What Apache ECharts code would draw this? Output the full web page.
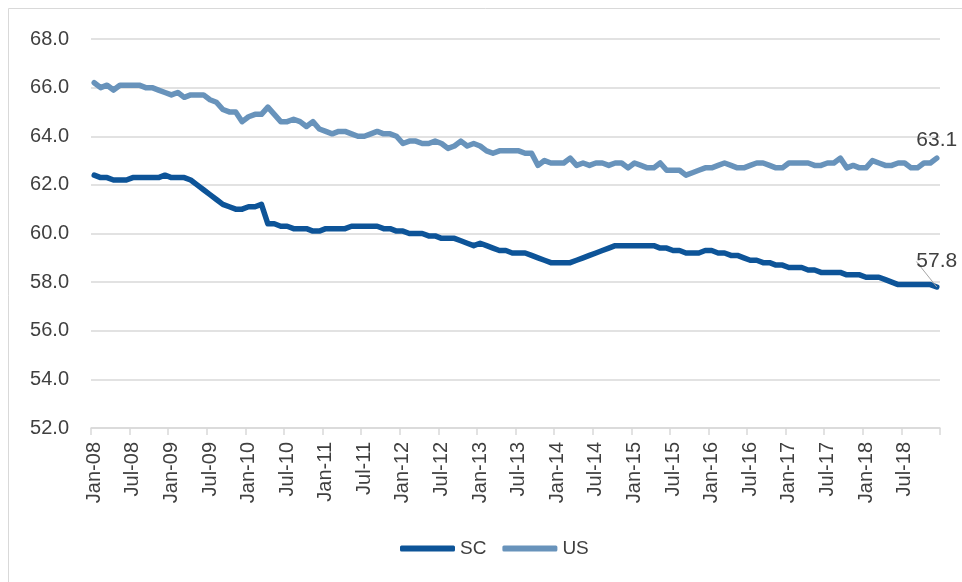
<!DOCTYPE html>
<html>
<head>
<meta charset="utf-8">
<script src="https://cdn.jsdelivr.net/npm/echarts@6/dist/echarts.min.js"></script>
<style>
  html, body { margin: 0; padding: 0; background: #fff; }
  #chart { width: 962px; height: 582px; }
</style>
</head>
<body>
<div id="chart"></div>
<script>
var years = ['08', '09', '10', '11', '12', '13', '14', '15', '16', '17', '18'];
var months = ['Jan', 'Feb', 'Mar', 'Apr', 'May', 'Jun', 'Jul', 'Aug', 'Sep', 'Oct', 'Nov', 'Dec'];

var sc = [
    62.4, 62.3, 62.3, 62.2, 62.2, 62.2, 62.3, 62.3, 62.3, 62.3, 62.3, 62.4,
    62.3, 62.3, 62.3, 62.2, 62.0, 61.8, 61.6, 61.4, 61.2, 61.1, 61.0, 61.0,
    61.1, 61.1, 61.2, 60.4, 60.4, 60.3, 60.3, 60.2, 60.2, 60.2, 60.1, 60.1,
    60.2, 60.2, 60.2, 60.2, 60.3, 60.3, 60.3, 60.3, 60.3, 60.2, 60.2, 60.1,
    60.1, 60.0, 60.0, 60.0, 59.9, 59.9, 59.8, 59.8, 59.8, 59.7, 59.6, 59.5,
    59.6, 59.5, 59.4, 59.3, 59.3, 59.2, 59.2, 59.2, 59.1, 59.0, 58.9, 58.8,
    58.8, 58.8, 58.8, 58.9, 59.0, 59.1, 59.2, 59.3, 59.4, 59.5, 59.5, 59.5,
    59.5, 59.5, 59.5, 59.5, 59.4, 59.4, 59.3, 59.3, 59.2, 59.2, 59.2, 59.3,
    59.3, 59.2, 59.2, 59.1, 59.1, 59.0, 58.9, 58.9, 58.8, 58.8, 58.7, 58.7,
    58.6, 58.6, 58.6, 58.5, 58.5, 58.4, 58.4, 58.4, 58.4, 58.3, 58.3, 58.3,
    58.2, 58.2, 58.2, 58.1, 58.0, 57.9, 57.9, 57.9, 57.9, 57.9, 57.9, 57.8
];

var us = [
    66.2, 66.0, 66.1, 65.9, 66.1, 66.1, 66.1, 66.1, 66.0, 66.0, 65.9, 65.8,
    65.7, 65.8, 65.6, 65.7, 65.7, 65.7, 65.5, 65.4, 65.1, 65.0, 65.0, 64.6,
    64.8, 64.9, 64.9, 65.2, 64.9, 64.6, 64.6, 64.7, 64.6, 64.4, 64.6, 64.3,
    64.2, 64.1, 64.2, 64.2, 64.1, 64.0, 64.0, 64.1, 64.2, 64.1, 64.1, 64.0,
    63.7, 63.8, 63.8, 63.7, 63.7, 63.8, 63.7, 63.5, 63.6, 63.8, 63.6, 63.7,
    63.6, 63.4, 63.3, 63.4, 63.4, 63.4, 63.4, 63.3, 63.3, 62.8, 63.0, 62.9,
    62.9, 62.9, 63.1, 62.8, 62.9, 62.8, 62.9, 62.9, 62.8, 62.9, 62.9, 62.7,
    62.9, 62.8, 62.7, 62.7, 62.9, 62.6, 62.6, 62.6, 62.4, 62.5, 62.6, 62.7,
    62.7, 62.8, 62.9, 62.8, 62.7, 62.7, 62.8, 62.9, 62.9, 62.8, 62.7, 62.7,
    62.9, 62.9, 62.9, 62.9, 62.8, 62.8, 62.9, 62.9, 63.1, 62.7, 62.8, 62.7,
    62.7, 63.0, 62.9, 62.8, 62.8, 62.9, 62.9, 62.7, 62.7, 62.9, 62.9, 63.1
];

var categories = [];
for (var y = 0; y < years.length; y++) {
    for (var m = 0; m < months.length; m++) {
        categories.push(months[m] + '-' + years[y]);
    }
}

// only the last point of each series gets a value label
function withEndLabel(values) {
    return values.map(function (v, i) {
        if (i === values.length - 1) {
            return {value: v, label: {show: true}};
        }
        return v;
    });
}

var textColor = '#404040';
var font = 'Liberation Sans';

var myChart = echarts.init(document.getElementById('chart'));
var option = {
    animation: false,
    backgroundColor: '#ffffff',
    textStyle: {fontFamily: font},
    graphic: [{
        type: 'rect',
        shape: {x: 8.5, y: 8.5, width: 980, height: 600},
        style: {fill: 'none', stroke: '#d9d9d9', lineWidth: 1},
        silent: true
    }],
    grid: {left: 91, right: 22, top: 39, bottom: 154},
    legend: {
        top: 534,
        left: 395,
        itemWidth: 55,
        itemHeight: 6,
        itemGap: 16,
        icon: 'roundRect',
        textStyle: {fontSize: 19, color: textColor, fontFamily: font},
        data: ['SC', 'US']
    },
    xAxis: {
        type: 'category',
        data: categories,
        boundaryGap: true,
        axisLine: {lineStyle: {color: '#d9d9d9', width: 1.5}},
        axisTick: {show: true, interval: 5, length: 7, lineStyle: {color: '#d9d9d9', width: 1.5}},
        axisLabel: {interval: 5, rotate: 90, fontSize: 20, color: textColor, margin: 14, fontFamily: font},
        splitLine: {show: false}
    },
    yAxis: {
        type: 'value',
        min: 52,
        max: 68,
        interval: 2,
        axisLine: {show: false},
        axisTick: {show: false},
        axisLabel: {
            fontSize: 20, color: textColor, margin: 22, fontFamily: font,
            formatter: function (v) { return v.toFixed(1); }
        },
        splitLine: {lineStyle: {color: '#d9d9d9', width: 1.5}}
    },
    series: [
        {
            name: 'SC',
            type: 'line',
            data: withEndLabel(sc),
            showSymbol: true,
            symbol: 'circle',
            symbolSize: 0,
            color: '#0d5498',
            lineStyle: {width: 5.5, color: '#0d5498', cap: 'round', join: 'round'},
            label: {position: 'top', distance: 4, fontSize: 21, color: textColor, fontFamily: font},
            labelLayout: {dy: -11},
            labelLine: {show: true, lineStyle: {color: '#a6a6a6', width: 1}},
            z: 3
        },
        {
            name: 'US',
            type: 'line',
            data: withEndLabel(us),
            showSymbol: true,
            symbol: 'circle',
            symbolSize: 0,
            color: '#6893bb',
            lineStyle: {width: 5.5, color: '#6893bb', cap: 'round', join: 'round'},
            label: {position: 'top', distance: 7, fontSize: 21, color: textColor, fontFamily: font},
            z: 2
        }
    ]
};
myChart.setOption(option, true);
</script>
</body>
</html>
